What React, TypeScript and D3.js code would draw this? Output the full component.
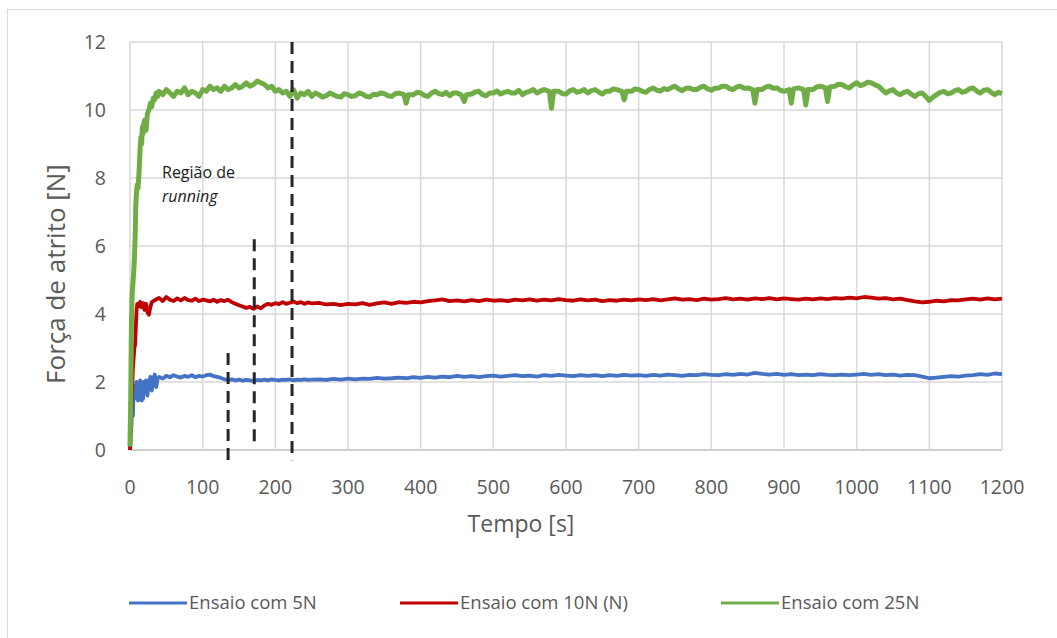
import React from "react";
import * as d3 from "d3";

// Ensaio com 5N  [tempo (s), força (N)]
const ensaio5N: [number, number][] = [
  [0, 0], [1, 0.4], [2, 0.7], [3, 1.3], [4, 1.0], [5, 1.8], [6, 1.5], [7, 1.9], [8, 1.6], [9, 2.0],
  [10, 1.7], [11, 1.45], [12, 1.9], [13, 1.55], [14, 2.05], [15, 1.75], [16, 1.45], [17, 1.85], [18, 1.5], [19, 2.0],
  [20, 1.7], [22, 2.05], [24, 1.6], [26, 2.0], [28, 2.15], [30, 1.75], [32, 2.1], [34, 2.22], [36, 1.85], [38, 2.1],
  [40, 2.15], [45, 2.1], [50, 2.18], [55, 2.14], [60, 2.2], [65, 2.16], [70, 2.13], [75, 2.18], [80, 2.15], [85, 2.2],
  [90, 2.14], [95, 2.18], [100, 2.16], [105, 2.2], [110, 2.22], [115, 2.17], [120, 2.15], [125, 2.12], [130, 2.08], [135, 2.06],
  [140, 2.08], [145, 2.05], [150, 2.07], [155, 2.04], [160, 2.06], [165, 2.05], [170, 2.03], [175, 2.06], [180, 2.05], [185, 2.07],
  [190, 2.05], [195, 2.08], [200, 2.06], [205, 2.05], [210, 2.07], [215, 2.06], [220, 2.08], [225, 2.05], [230, 2.07], [235, 2.06],
  [240, 2.08], [245, 2.06], [250, 2.07], [260, 2.08], [270, 2.06], [280, 2.09], [290, 2.07], [300, 2.1], [310, 2.08], [320, 2.1],
  [330, 2.09], [340, 2.12], [350, 2.1], [360, 2.11], [370, 2.13], [380, 2.11], [390, 2.14], [400, 2.12], [410, 2.15], [420, 2.13],
  [430, 2.16], [440, 2.14], [450, 2.18], [460, 2.15], [470, 2.17], [480, 2.14], [490, 2.17], [500, 2.19], [510, 2.16], [520, 2.18],
  [530, 2.2], [540, 2.17], [550, 2.19], [560, 2.16], [570, 2.2], [580, 2.18], [590, 2.21], [600, 2.19], [610, 2.17], [620, 2.2],
  [630, 2.18], [640, 2.2], [650, 2.17], [660, 2.2], [670, 2.18], [680, 2.21], [690, 2.19], [700, 2.2], [710, 2.18], [720, 2.21],
  [730, 2.19], [740, 2.22], [750, 2.2], [760, 2.18], [770, 2.21], [780, 2.2], [790, 2.23], [800, 2.21], [810, 2.2], [820, 2.23],
  [830, 2.21], [840, 2.24], [850, 2.22], [860, 2.27], [870, 2.24], [880, 2.22], [890, 2.24], [900, 2.21], [910, 2.23], [920, 2.2],
  [930, 2.22], [940, 2.2], [950, 2.23], [960, 2.21], [970, 2.2], [980, 2.22], [990, 2.2], [1000, 2.22], [1010, 2.24], [1020, 2.21],
  [1030, 2.23], [1040, 2.2], [1050, 2.22], [1060, 2.19], [1070, 2.21], [1080, 2.2], [1090, 2.16], [1100, 2.11], [1110, 2.13], [1120, 2.15],
  [1130, 2.17], [1140, 2.16], [1150, 2.19], [1160, 2.2], [1170, 2.23], [1180, 2.21], [1190, 2.25], [1200, 2.23],
];

// Ensaio com 10N (N)
const ensaio10N: [number, number][] = [
  [0, 0], [2, 1.2], [4, 2.4], [6, 3.0], [7, 3.1], [8, 3.6], [9, 4.1], [10, 4.3], [12, 4.22], [14, 4.36],
  [16, 4.2], [18, 4.32], [20, 4.12], [22, 4.3], [24, 4.05], [26, 3.98], [28, 4.2], [30, 4.35], [35, 4.42], [40, 4.47],
  [45, 4.38], [50, 4.5], [55, 4.42], [60, 4.38], [65, 4.46], [70, 4.4], [75, 4.47], [80, 4.41], [85, 4.39], [90, 4.45],
  [95, 4.38], [100, 4.42], [105, 4.4], [110, 4.37], [115, 4.42], [120, 4.36], [125, 4.41], [130, 4.38], [135, 4.42], [140, 4.35],
  [145, 4.3], [150, 4.26], [155, 4.22], [160, 4.18], [165, 4.21], [170, 4.15], [175, 4.22], [180, 4.17], [185, 4.25], [190, 4.3],
  [195, 4.27], [200, 4.32], [205, 4.29], [210, 4.35], [215, 4.3], [220, 4.33], [225, 4.37], [230, 4.32], [235, 4.35], [240, 4.3],
  [245, 4.34], [250, 4.31], [260, 4.33], [270, 4.28], [280, 4.3], [290, 4.26], [300, 4.3], [310, 4.28], [320, 4.32], [330, 4.27],
  [340, 4.31], [350, 4.34], [360, 4.3], [370, 4.35], [380, 4.33], [390, 4.36], [400, 4.34], [410, 4.38], [420, 4.4], [430, 4.43],
  [440, 4.38], [450, 4.4], [460, 4.37], [470, 4.41], [480, 4.38], [490, 4.42], [500, 4.39], [510, 4.41], [520, 4.38], [530, 4.42],
  [540, 4.4], [550, 4.43], [560, 4.39], [570, 4.42], [580, 4.4], [590, 4.44], [600, 4.41], [610, 4.39], [620, 4.43], [630, 4.4],
  [640, 4.42], [650, 4.38], [660, 4.41], [670, 4.39], [680, 4.42], [690, 4.4], [700, 4.43], [710, 4.41], [720, 4.44], [730, 4.4],
  [740, 4.43], [750, 4.46], [760, 4.42], [770, 4.44], [780, 4.41], [790, 4.45], [800, 4.42], [810, 4.44], [820, 4.47], [830, 4.43],
  [840, 4.45], [850, 4.42], [860, 4.46], [870, 4.44], [880, 4.47], [890, 4.43], [900, 4.46], [910, 4.44], [920, 4.42], [930, 4.45],
  [940, 4.43], [950, 4.46], [960, 4.44], [970, 4.47], [980, 4.45], [990, 4.48], [1000, 4.46], [1010, 4.5], [1020, 4.48], [1030, 4.45],
  [1040, 4.47], [1050, 4.43], [1060, 4.45], [1070, 4.41], [1080, 4.37], [1090, 4.34], [1100, 4.36], [1110, 4.39], [1120, 4.37], [1130, 4.41],
  [1140, 4.4], [1150, 4.43], [1160, 4.45], [1170, 4.42], [1180, 4.46], [1190, 4.43], [1200, 4.45],
];

// Ensaio com 25N
const ensaio25N: [number, number][] = [
  [0, 0.1], [1, 1.5], [2, 3.8], [3, 4.6], [4, 4.9], [5, 5.2], [6, 5.6], [7, 6.2], [8, 7.2], [9, 7.6],
  [10, 7.8], [11, 7.7], [12, 8.0], [13, 8.4], [14, 8.9], [15, 9.2], [16, 9.0], [17, 9.5], [18, 9.3], [19, 9.6],
  [20, 9.7], [22, 9.4], [24, 9.9], [26, 10.0], [28, 10.2], [30, 10.1], [32, 10.35], [34, 10.3], [36, 10.5], [38, 10.4],
  [40, 10.55], [45, 10.45], [50, 10.6], [55, 10.5], [60, 10.4], [65, 10.55], [70, 10.5], [75, 10.65], [80, 10.45], [85, 10.55],
  [90, 10.5], [95, 10.4], [100, 10.6], [105, 10.55], [110, 10.7], [115, 10.6], [120, 10.65], [125, 10.55], [130, 10.7], [135, 10.6],
  [140, 10.65], [145, 10.75], [150, 10.65], [155, 10.7], [160, 10.8], [165, 10.7], [170, 10.75], [175, 10.85], [180, 10.8], [185, 10.75],
  [190, 10.65], [195, 10.7], [200, 10.55], [205, 10.6], [210, 10.5], [215, 10.55], [220, 10.4], [225, 10.6], [230, 10.35], [235, 10.5],
  [240, 10.45], [245, 10.55], [250, 10.4], [255, 10.5], [260, 10.45], [265, 10.38], [270, 10.42], [275, 10.5], [280, 10.45], [285, 10.4],
  [290, 10.38], [295, 10.48], [300, 10.45], [305, 10.4], [310, 10.42], [315, 10.5], [320, 10.47], [325, 10.4], [330, 10.38], [335, 10.46],
  [340, 10.45], [345, 10.5], [350, 10.48], [355, 10.42], [360, 10.4], [365, 10.48], [370, 10.5], [377, 10.45], [380, 10.2], [383, 10.45],
  [390, 10.45], [395, 10.52], [400, 10.5], [405, 10.43], [410, 10.4], [415, 10.5], [420, 10.55], [425, 10.48], [430, 10.45], [435, 10.52],
  [440, 10.42], [445, 10.5], [450, 10.5], [456, 10.44], [460, 10.25], [463, 10.45], [470, 10.47], [475, 10.53], [480, 10.55], [485, 10.45],
  [490, 10.42], [495, 10.5], [500, 10.5], [505, 10.56], [510, 10.47], [515, 10.52], [520, 10.55], [525, 10.5], [530, 10.5], [535, 10.58],
  [540, 10.45], [545, 10.52], [550, 10.55], [555, 10.6], [560, 10.5], [565, 10.56], [570, 10.6], [577, 10.55], [580, 10.05], [583, 10.55],
  [590, 10.55], [595, 10.48], [600, 10.47], [605, 10.56], [610, 10.6], [615, 10.52], [620, 10.55], [625, 10.6], [630, 10.5], [635, 10.57],
  [640, 10.6], [645, 10.53], [650, 10.47], [655, 10.55], [660, 10.55], [665, 10.62], [670, 10.6], [677, 10.55], [680, 10.3], [683, 10.55],
  [690, 10.55], [695, 10.62], [700, 10.6], [705, 10.55], [710, 10.52], [715, 10.6], [720, 10.65], [725, 10.58], [730, 10.56], [735, 10.63],
  [740, 10.6], [745, 10.66], [750, 10.7], [755, 10.62], [760, 10.57], [765, 10.64], [770, 10.65], [775, 10.6], [780, 10.6], [785, 10.67],
  [790, 10.7], [795, 10.62], [800, 10.58], [805, 10.64], [810, 10.65], [815, 10.7], [820, 10.7], [825, 10.63], [830, 10.6], [835, 10.68],
  [840, 10.7], [845, 10.64], [850, 10.65], [857, 10.6], [860, 10.2], [863, 10.6], [870, 10.6], [875, 10.68], [880, 10.7], [885, 10.64],
  [890, 10.65], [895, 10.58], [900, 10.55], [907, 10.6], [910, 10.2], [913, 10.62], [920, 10.65], [927, 10.6], [930, 10.15], [933, 10.6],
  [940, 10.6], [945, 10.68], [950, 10.7], [957, 10.65], [960, 10.25], [963, 10.68], [970, 10.7], [975, 10.76], [980, 10.75], [985, 10.68],
  [990, 10.65], [995, 10.74], [1000, 10.8], [1005, 10.72], [1010, 10.75], [1015, 10.82], [1020, 10.8], [1025, 10.74], [1030, 10.7], [1035, 10.6],
  [1040, 10.5], [1045, 10.56], [1050, 10.6], [1055, 10.5], [1060, 10.45], [1065, 10.52], [1070, 10.55], [1075, 10.47], [1080, 10.4], [1085, 10.48],
  [1090, 10.5], [1095, 10.4], [1100, 10.28], [1105, 10.38], [1110, 10.45], [1115, 10.52], [1120, 10.55], [1125, 10.48], [1130, 10.5], [1135, 10.57],
  [1140, 10.6], [1145, 10.52], [1150, 10.55], [1155, 10.62], [1160, 10.65], [1165, 10.56], [1170, 10.5], [1175, 10.58], [1180, 10.6], [1185, 10.52],
  [1190, 10.45], [1195, 10.52], [1200, 10.48],
];

const seriesNames = ["Ensaio com 5N", "Ensaio com 10N (N)", "Ensaio com 25N"];
const seriesColors = ["#4472C4", "#C00000", "#70AD47"];

const xTicks = [0, 100, 200, 300, 400, 500, 600, 700, 800, 900, 1000, 1100, 1200];
const yTicks = [0, 2, 4, 6, 8, 10, 12];

// dashed markers: [tempo, força início, força fim]
const dashedMarkers: [number, number, number][] = [
  [135, 2.85, -0.38],
  [171, 6.2, 0.1],
  [223, 12, -0.3],
];

const annotationLines = ["Região de", "running"];

const W = 1057;
const H = 638;
const gray = "#595959";
const font = "'Open Sans', 'DejaVu Sans', sans-serif";

export default function App() {
  const x = d3.scaleLinear().domain([0, 1200]).range([130, 1002]);
  const y = d3.scaleLinear().domain([0, 12]).range([450, 42]);
  const line = d3
    .line<[number, number]>()
    .x((d) => x(d[0]))
    .y((d) => y(d[1]));
  const series = [ensaio5N, ensaio10N, ensaio25N];
  const widths = [3.8, 3.8, 5];

  const legendX = [129, 400, 721];

  return (
    <svg
      width={W}
      height={H}
      style={{ position: "absolute", left: 0, top: 0, background: "#fff" }}
      fontFamily={font}
    >
      <rect x={7.5} y={9.5} width={1060} height={660} fill="#fff" stroke="#d9d9d9" strokeWidth={1} />
      {/* grid */}
      {yTicks.map((t) => (
        <line key={"gy" + t} x1={x(0)} x2={x(1200)} y1={y(t)} y2={y(t)} stroke={t === 0 ? "#bfbfbf" : "#d9d9d9"} strokeWidth={1.5} />
      ))}
      {xTicks.map((t) => (
        <line key={"gx" + t} x1={x(t)} x2={x(t)} y1={y(0)} y2={y(12)} stroke="#d9d9d9" strokeWidth={1.5} />
      ))}
      {/* tick labels */}
      {yTicks.map((t) => (
        <text key={"ty" + t} x={106} y={y(t)} dy="0.35em" textAnchor="end" fontSize={19.5} fill={gray}>
          {t}
        </text>
      ))}
      {xTicks.map((t) => (
        <text key={"tx" + t} x={x(t)} y={494} textAnchor="middle" fontSize={19.5} fill={gray}>
          {t}
        </text>
      ))}
      {/* axis titles */}
      <text x={521} y={532} textAnchor="middle" fontSize={23} fill={gray}>
        Tempo [s]
      </text>
      <text transform={`translate(65,274) rotate(-90)`} textAnchor="middle" fontSize={26} fill={gray}>
        Força de atrito [N]
      </text>
      {/* series */}
      {series.map((s, i) => (
        <path key={"s" + i} d={line(s) || ""} fill="none" stroke={seriesColors[i]} strokeWidth={widths[i]} strokeLinejoin="round" />
      ))}
      {/* dashed markers */}
      {dashedMarkers.map((m, i) => (
        <line key={"dm" + i} x1={x(m[0])} x2={x(m[0])} y1={y(m[1])} y2={y(m[2])} stroke="#262626" strokeWidth={3} strokeDasharray="12,7" />
      ))}
      {/* annotation */}
      <text x={162} y={178} fontSize={16} fill="#1a1a1a">
        {annotationLines[0]}
      </text>
      <text x={162} y={202} fontSize={16} fontStyle="italic" fill="#1a1a1a">
        {annotationLines[1]}
      </text>
      {/* legend */}
      {seriesNames.map((n, i) => (
        <g key={"lg" + i}>
          <line x1={legendX[i]} x2={legendX[i] + 58} y1={603} y2={603} stroke={seriesColors[i]} strokeWidth={3} />
          <text x={legendX[i] + 60} y={603} dy="0.35em" fontSize={18.5} fill={gray}>
            {n}
          </text>
        </g>
      ))}
    </svg>
  );
}
